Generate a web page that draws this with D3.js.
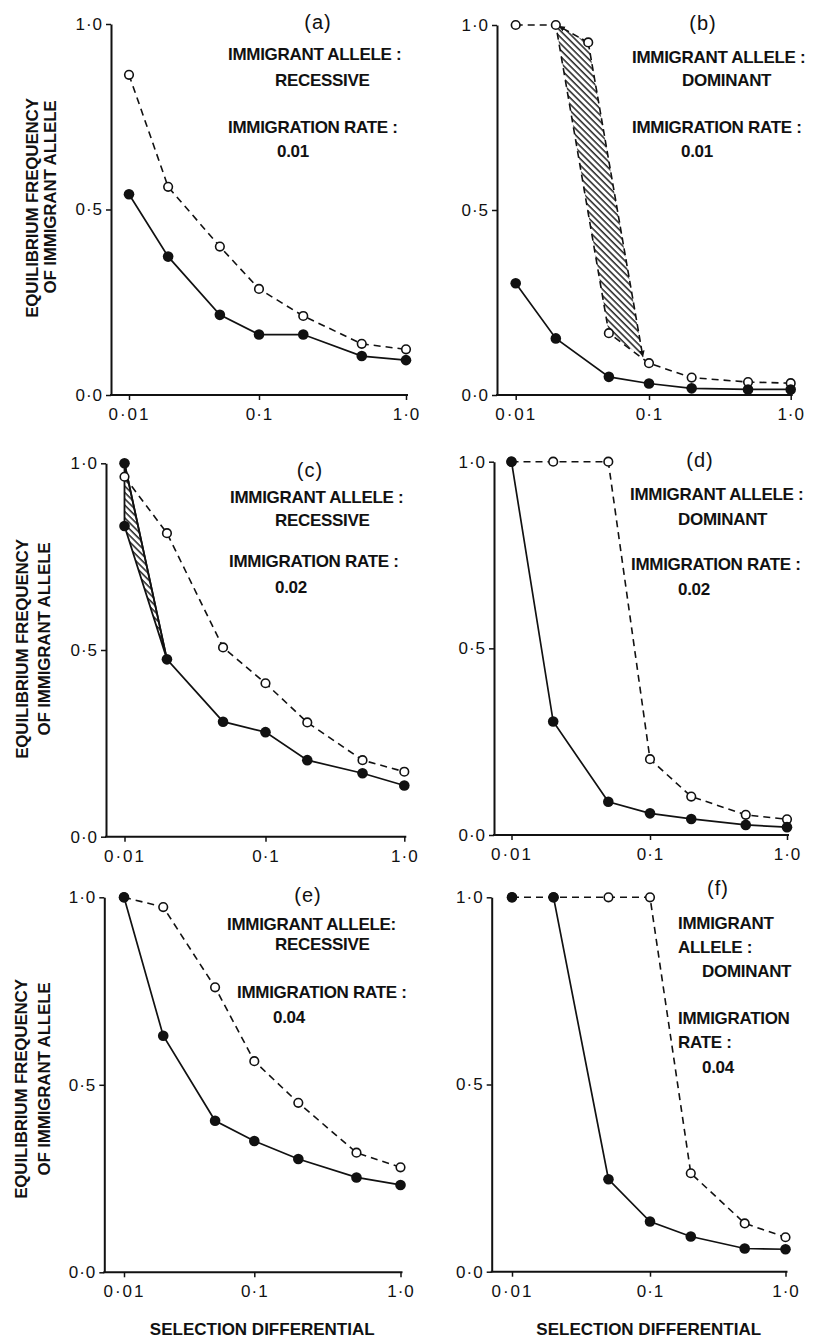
<!DOCTYPE html>
<html>
<head>
<meta charset="utf-8">
<script src="https://cdn.jsdelivr.net/npm/d3@7"></script>
<style>
  body { margin: 0; background: #fff; }
  svg { display: block; }
  text { font-family: "Liberation Sans", Arial, sans-serif; fill: #111; }
</style>
</head>
<body>
<svg id="chart" width="817" height="1339"></svg>
<script>
// selection differentials on the x axis (log scale)
const selection = [0.01, 0.02, 0.05, 0.1, 0.2, 0.5, 1.0];
const xTicks = [0.01, 0.1, 1.0];
const xTickLabels = ['0·01', '0·1', '1·0'];
const yTicks = [0, 0.5, 1];
const yTickLabels = ['0·0', '0·5', '1·0'];

const panelIds = ['(a)', '(b)', '(c)', '(d)', '(e)', '(f)'];
const notes = [
  ['IMMIGRANT ALLELE :', 'RECESSIVE', 'IMMIGRATION RATE :', '0.01'],
  ['IMMIGRANT ALLELE :', 'DOMINANT', 'IMMIGRATION RATE :', '0.01'],
  ['IMMIGRANT ALLELE :', 'RECESSIVE', 'IMMIGRATION RATE :', '0.02'],
  ['IMMIGRANT ALLELE :', 'DOMINANT', 'IMMIGRATION RATE :', '0.02'],
  ['IMMIGRANT ALLELE:', 'RECESSIVE', 'IMMIGRATION RATE :', '0.04'],
  ['IMMIGRANT', 'ALLELE :', 'DOMINANT', 'IMMIGRATION', 'RATE :', '0.04']
];
const yLabel = ['EQUILIBRIUM FREQUENCY', 'OF IMMIGRANT ALLELE'];
const xLabel = 'SELECTION DIFFERENTIAL';

// equilibrium frequencies: filled circles (solid line), open circles (dashed line)
const filledA = [0.541, 0.373, 0.216, 0.163, 0.163, 0.105, 0.094];
const openA   = [0.863, 0.561, 0.400, 0.286, 0.213, 0.138, 0.123];
const filledB = [0.302, 0.153, 0.049, 0.031, 0.018, 0.015, 0.015];
const openB   = [1.0, 1.0, 0.167, 0.086, 0.047, 0.035, 0.032];
const filledC = [1.0, 0.475, 0.308, 0.280, 0.205, 0.170, 0.137];
const openC   = [0.964, 0.813, 0.507, 0.411, 0.306, 0.205, 0.174];
const filledD = [1.0, 0.304, 0.089, 0.058, 0.043, 0.027, 0.021];
const openD   = [1.0, 1.0, 1.0, 0.203, 0.103, 0.054, 0.042];
const filledE = [1.0, 0.631, 0.404, 0.350, 0.302, 0.253, 0.233];
const openE   = [1.0, 0.974, 0.760, 0.563, 0.452, 0.319, 0.280];
const filledF = [1.0, 1.0, 0.247, 0.134, 0.094, 0.062, 0.060];
const openF   = [1.0, 1.0, 1.0, 1.0, 0.263, 0.129, 0.092];

// extra equilibria and the hatched regions
const extraOpenB = [[0.035, 0.953]];
const extraFilledC = [[0.01, 0.832]];
const hatchB = [[0.02, 1.0], [0.035, 0.953], [0.09, 0.103], [0.05, 0.167]];
const hatchC = [[0.01, 1.0], [0.02, 0.475], [0.01, 0.832]];
const arrowEdgesB = [
  [[0.035, 0.953], [0.021, 0.997]],
  [[0.035, 0.953], [0.09, 0.103]]
];

const filled = [filledA, filledB, filledC, filledD, filledE, filledF];
const open = [openA, openB, openC, openD, openE, openF];
const solidStart = [0, 0, 0, 0, 0, 1];

// page layout of each panel
const layout = [
  { axisX: 111, xr: [129, 259, 406], top: 24, bottom: 395 },
  { axisX: 497, xr: [515.7, 649, 790.7], top: 25, bottom: 395 },
  { axisX: 106, xr: [124.5, 265.5, 404.3], top: 463.3, bottom: 836.7 },
  { axisX: 494, xr: [511.5, 650, 787], top: 461.7, bottom: 835 },
  { axisX: 104.3, xr: [124, 254.3, 400.5], top: 897.3, bottom: 1272.3 },
  { axisX: 491.7, xr: [512, 650, 785.5], top: 897.3, bottom: 1271.7 }
];
const idPos = [[318, 29], [703, 30], [310, 477], [700, 467], [308, 902], [718, 895]];
const notePos = [
  [[228, 60], [275, 86], [228, 133], [277, 157]],
  [[632, 63], [682, 86], [632, 133], [681, 157]],
  [[230, 503], [275, 526], [229, 567], [275, 593]],
  [[630, 500], [678, 525], [631, 570], [678, 595]],
  [[227, 930], [275, 950], [237, 998], [273, 1023]],
  [[678, 929], [678, 953], [702, 977], [678, 1024], [678, 1048], [702, 1073]]
];
const yLabelPos = [
  [[38, 208], [56, 197]],
  null,
  [[28, 649], [50, 639]],
  null,
  [[27, 1089], [50, 1079]],
  null
];

const svg = d3.select('#chart');
const defs = svg.append('defs');

defs.append('pattern')
  .attr('id', 'hatch')
  .attr('patternUnits', 'userSpaceOnUse')
  .attr('width', 4.5)
  .attr('height', 4.5)
  .attr('patternTransform', 'rotate(-45)')
  .append('line')
  .attr('x1', 1).attr('y1', 0).attr('x2', 1).attr('y2', 4.5)
  .attr('stroke', '#111')
  .attr('stroke-width', 1.4);

defs.append('marker')
  .attr('id', 'arrow')
  .attr('viewBox', '0 0 10 10')
  .attr('refX', 9).attr('refY', 5)
  .attr('markerWidth', 7).attr('markerHeight', 7)
  .attr('markerUnits', 'userSpaceOnUse')
  .attr('orient', 'auto')
  .append('path')
  .attr('d', 'M0,1L10,5L0,9Z')
  .attr('fill', '#111');

layout.forEach((L, i) => {
  const x = d3.scaleLog().domain(xTicks).range(L.xr);
  const y = d3.scaleLinear().domain([0, 1]).range([L.bottom, L.top]);
  const line = d3.line().x(d => x(d[0])).y(d => y(d[1]));
  const g = svg.append('g');

  // axes
  const yAxis = g.append('g')
    .attr('transform', `translate(${L.axisX},0)`)
    .attr('color', '#111')
    .call(d3.axisLeft(y).tickValues(yTicks).tickFormat((d, j) => yTickLabels[j])
      .tickSize(5).tickSizeOuter(0).tickPadding(3));
  yAxis.select('.domain').attr('stroke-width', 2);
  yAxis.selectAll('.tick line').attr('stroke-width', 1.5);
  yAxis.selectAll('.tick text')
    .attr('font-size', 17)
    .style('letter-spacing', '1px')
    .style('font-family', '"Liberation Sans", Arial, sans-serif');

  const xAxis = g.append('g')
    .attr('transform', `translate(0,${L.bottom})`)
    .attr('color', '#111')
    .call(d3.axisBottom(x).tickValues(xTicks).tickFormat((d, j) => xTickLabels[j])
      .tickSize(5).tickSizeOuter(0).tickPadding(8));
  xAxis.select('.domain')
    .attr('d', `M${L.axisX - 1},0H${L.xr[2] + 2}`)
    .attr('stroke-width', 2);
  xAxis.selectAll('.tick line').attr('stroke-width', 1.5);
  xAxis.selectAll('.tick text')
    .attr('font-size', 17)
    .style('letter-spacing', (d, j) => j === 0 ? '2px' : '1px')
    .style('font-family', '"Liberation Sans", Arial, sans-serif');

  // hatched regions
  if (i === 1) {
    g.append('path')
      .attr('d', line(hatchB) + 'Z')
      .attr('fill', 'url(#hatch)');
    arrowEdgesB.forEach(e => {
      g.append('path')
        .attr('d', line(e))
        .attr('fill', 'none')
        .attr('stroke', '#111')
        .attr('stroke-width', 1.6)
        .attr('stroke-dasharray', '7,4')
        .attr('marker-end', 'url(#arrow)');
    });
  }
  if (i === 2) {
    g.append('path')
      .attr('d', line(hatchC) + 'Z')
      .attr('fill', 'url(#hatch)')
      .attr('stroke', '#111')
      .attr('stroke-width', 1.8)
      .attr('stroke-linejoin', 'round');
  }

  const openPts = selection.map((s, j) => [s, open[i][j]]);
  const filledPts = selection.map((s, j) => [s, filled[i][j]]);

  g.append('path')
    .attr('d', line(openPts))
    .attr('fill', 'none')
    .attr('stroke', '#111')
    .attr('stroke-width', 1.6)
    .attr('stroke-dasharray', '7,5');

  g.append('path')
    .attr('d', line(filledPts.slice(solidStart[i])))
    .attr('fill', 'none')
    .attr('stroke', '#111')
    .attr('stroke-width', 1.7);

  const openAll = i === 1 ? openPts.concat(extraOpenB) : openPts;
  const filledAll = i === 2 ? filledPts.concat(extraFilledC) : filledPts;

  g.selectAll('.open')
    .data(openAll)
    .join('circle')
    .attr('class', 'open')
    .attr('cx', d => x(d[0]))
    .attr('cy', d => y(d[1]))
    .attr('r', 4.3)
    .attr('fill', '#fff')
    .attr('stroke', '#111')
    .attr('stroke-width', 1.6);

  g.selectAll('.filled')
    .data(filledAll)
    .join('circle')
    .attr('class', 'filled')
    .attr('cx', d => x(d[0]))
    .attr('cy', d => y(d[1]))
    .attr('r', 5.3)
    .attr('fill', '#111');

  // panel letter and notes
  g.append('text')
    .attr('x', idPos[i][0])
    .attr('y', idPos[i][1])
    .attr('text-anchor', 'middle')
    .attr('font-size', 20)
    .style('letter-spacing', '1px')
    .text(panelIds[i]);

  notes[i].forEach((t, j) => {
    g.append('text')
      .attr('x', notePos[i][j][0])
      .attr('y', notePos[i][j][1])
      .attr('font-size', 17)
      .attr('font-weight', 'bold')
      .style('letter-spacing', '-0.3px')
      .text(t);
  });

  if (yLabelPos[i]) {
    yLabel.forEach((t, j) => {
      const p = yLabelPos[i][j];
      g.append('text')
        .attr('transform', `translate(${p[0]},${p[1]}) rotate(-90)`)
        .attr('text-anchor', 'middle')
        .attr('font-size', 17)
        .attr('font-weight', 'bold')
        .style('letter-spacing', '-0.2px')
        .text(t);
    });
  }

  if (i >= 4) {
    g.append('text')
      .attr('x', (L.xr[0] + L.xr[2]) / 2)
      .attr('y', 1335)
      .attr('text-anchor', 'middle')
      .attr('font-size', 17)
      .attr('font-weight', 'bold')
      .text(xLabel);
  }
});
</script>
</body>
</html>
